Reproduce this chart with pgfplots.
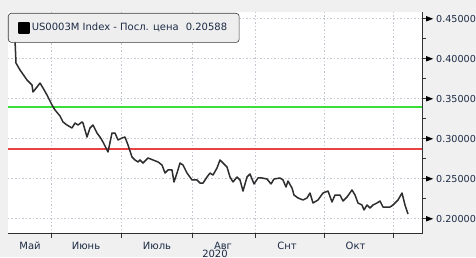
\documentclass[border=0pt]{standalone}
\usepackage{pgfplots}
\pgfplotsset{compat=1.18}
\usepackage{fontspec}
\setmainfont{DejaVu Sans}
\definecolor{outerbg}{HTML}{F0F0F0}
\definecolor{gridc}{HTML}{C4C8D2}
\definecolor{axisc}{HTML}{303030}
\definecolor{labelc}{HTML}{1C2B45}
\definecolor{linec}{HTML}{2E2E2E}
\definecolor{refgreen}{HTML}{3AE03A}
\definecolor{lineB}{rgb}{0.91,0.26,0.26}
\definecolor{legfill}{HTML}{EEEEEE}
\definecolor{legborder}{HTML}{3A3A3A}
\newcommand\tri{\tikz[baseline=-3.4pt]\fill[black] (0,2.7pt)--(7pt,0)--(0,-2.7pt)--cycle;\hspace{3pt}}
\pgfplotstableread{
x y
10 0.4359
15 0.4234
16 0.3946
20 0.3859
27 0.3734
32 0.3671
33 0.3584
37 0.3646
40 0.3696
43 0.3634
47 0.3546
52 0.3421
55 0.3359
60 0.3284
63 0.3209
67 0.3171
72 0.3134
75 0.3196
78 0.3171
82 0.3209
83 0.3196
87 0.3021
90 0.3134
93 0.3171
97 0.3071
100 0.3021
103 0.2959
108 0.2834
112 0.3071
115 0.3071
118 0.2984
122 0.3009
125 0.3021
128 0.2921
132 0.2771
135 0.2734
138 0.2709
140 0.2734
143 0.2696
148 0.2759
153 0.2734
158 0.2709
162 0.2671
165 0.2571
168 0.2609
172 0.2609
174 0.2459
177 0.2571
180 0.2696
183 0.2671
187 0.2571
192 0.2484
197 0.2484
200 0.2446
203 0.2446
207 0.2521
210 0.2571
213 0.2546
217 0.2634
220 0.2734
223 0.2696
227 0.2646
230 0.2521
233 0.2459
237 0.2521
240 0.2484
243 0.2346
247 0.2521
250 0.2559
254 0.2434
258 0.2509
262 0.2509
267 0.2496
271 0.2434
274 0.2496
280 0.2509
283 0.2484
286 0.2396
288 0.2471
292 0.2384
294 0.2296
298 0.2259
303 0.2234
307 0.2259
310 0.2321
313 0.2196
318 0.2234
323 0.2321
328 0.2346
332 0.2209
335 0.2296
340 0.2296
343 0.2221
347 0.2271
352 0.2359
355 0.2296
358 0.2196
362 0.2171
364 0.2109
367 0.2171
370 0.2134
373 0.2171
377 0.2196
380 0.2221
383 0.2146
390 0.2146
393 0.2171
398 0.2234
402 0.2321
405 0.2171
408 0.2059
}\usd
\pgfplotstableread{
x y
8 0.2866
422 0.2866
}\redref
\pgfplotstableread{
x y
8 0.3396
422 0.3396
}\greenref
\begin{document}
\begin{tikzpicture}
\fill[outerbg] (0,0) rectangle (476pt,257pt);
\path[use as bounding box] (0,0) rectangle (476pt,257pt);
\begin{axis}[
  at={(8pt,23.3pt)}, anchor=south west,
  scale only axis, width=414pt, height=221.7pt,
  xmin=8, xmax=422, ymin=0.18125, ymax=0.458375,
  axis x line=bottom, axis y line=right,
  axis line style={-, draw=axisc, line width=0.8pt},
  every outer x axis line/.append style={-},
  every outer y axis line/.append style={-},
  axis background/.style={fill=white},
  xtick={30,86,157,223,287,355.5},
  xticklabels={Май,Июнь,Июль,Авг,Снт,Окт},
  minor xtick={51.7,121,192.7,255.3,324.7,393.7},
  xminorgrids=true,
  every major x tick/.append style={draw=none},
  ytick={0.20,0.25,0.30,0.35,0.40,0.45},
  yticklabels={\tri0.20000,\tri0.25000,\tri0.30000,\tri0.35000,\tri0.40000,\tri0.45000},
  minor ytick={0.225,0.275,0.325,0.375,0.425},
  ymajorgrids=true,
  tick align=outside,
  major tick length=4pt, minor tick length=4pt,
  tick style={draw=axisc, line width=0.7pt},
  major grid style={draw=gridc, line width=0.6pt, dash pattern=on 1.5pt off 2pt},
  minor grid style={draw=gridc, line width=0.6pt, dash pattern=on 1.5pt off 2pt},
  yticklabel style={inner sep=0pt, anchor=west, font=\fontsize{9.6}{12}\selectfont, text=labelc},
  xticklabel style={inner sep=0pt, anchor=north, yshift=-4pt, font=\fontsize{10}{12}\selectfont, text=labelc},
  legend style={at={(0.0,0.9955)}, anchor=north west, draw=legborder, line width=0.6pt, fill=legfill, rounded corners=3pt, font=\fontsize{10}{12}\selectfont, text=labelc, inner xsep=10pt, inner ysep=8pt},
  legend image code/.code={\fill[black, sharp corners] (0pt,-5pt) rectangle (10pt,5pt);},
  clip=false,
]
\addplot[draw=lineB, line width=2pt, no marks, forget plot] table[x=x,y=y] {\redref};
\addplot[color=refgreen, solid, line width=1.5pt, no marks, forget plot] table[x=x,y=y] {\greenref};
\addplot[color=linec, solid, line width=1.5pt, line join=round, no marks] table[x=x,y=y] {\usd};
\addlegendentry{US0003M Index - Посл. цена\hspace{7pt}0.20588}
\end{axis}
\node[anchor=north, inner sep=0pt, font=\fontsize{10}{12}\selectfont, text=labelc] at (215pt,7pt) {2020};
\end{tikzpicture}
\end{document}
